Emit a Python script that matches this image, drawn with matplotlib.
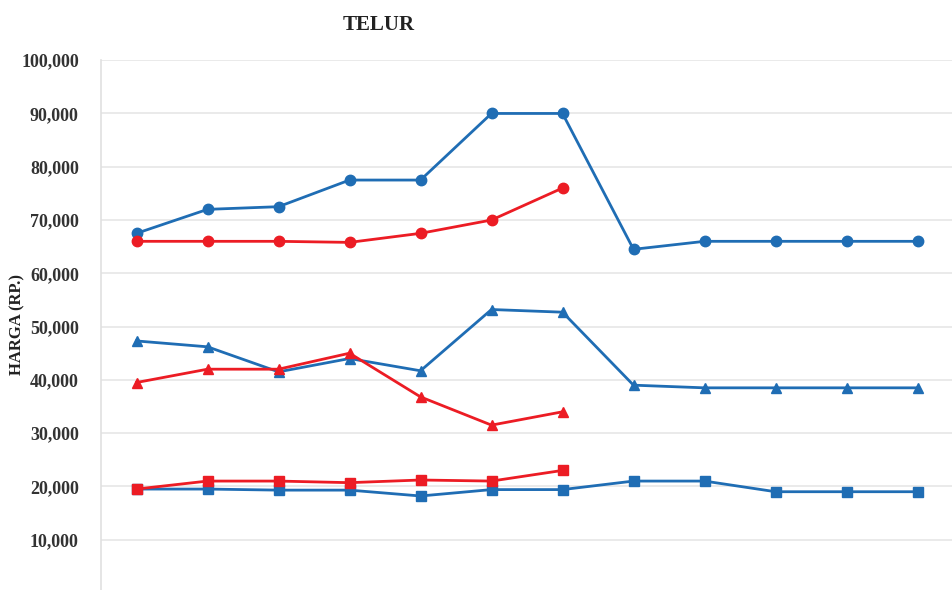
"""
Harga telur: blue series over 12 periods, red series over the first 7
"""
import matplotlib
matplotlib.use('Agg')
import matplotlib.pyplot as plt
from matplotlib.ticker import FuncFormatter

periods = list(range(1, 13))

blue_circle = [67500, 72000, 72500, 77500, 77500, 90000, 90000, 64500, 66000, 66000, 66000, 66000]
red_circle = [66000, 66000, 66000, 65800, 67500, 70000, 76000]
blue_triangle = [47300, 46200, 41500, 44000, 41700, 53200, 52700, 39000, 38500, 38500, 38500, 38500]
red_triangle = [39500, 42000, 42000, 45000, 36800, 31500, 34000]
blue_square = [19500, 19500, 19300, 19300, 18200, 19400, 19400, 21000, 21000, 19000, 19000, 19000]
red_square = [19500, 21000, 21000, 20700, 21200, 21000, 23000]

title = 'TELUR'
ylabel = 'HARGA (RP.)'

BLUE = '#1f6db4'
RED = '#ec1c24'
font = 'Liberation Serif'

fig = plt.figure(figsize=(9.53, 5.90), dpi=100)
ax = fig.add_axes([0.106, -0.005, 0.894, 0.903])

n_blue = len(blue_circle)
n_red = len(red_circle)
ax.plot(periods[:n_blue], blue_circle, color=BLUE, lw=2, marker='o', ms=7.5, zorder=3)
ax.plot(periods[:n_blue], blue_triangle, color=BLUE, lw=2, marker='^', ms=7.5, zorder=3)
ax.plot(periods[:n_blue], blue_square, color=BLUE, lw=2, marker='s', ms=7.5, zorder=3)
ax.plot(periods[:n_red], red_circle, color=RED, lw=2, marker='o', ms=7.5, zorder=4)
ax.plot(periods[:n_red], red_triangle, color=RED, lw=2, marker='^', ms=7.5, zorder=4)
ax.plot(periods[:n_red], red_square, color=RED, lw=2, marker='s', ms=7.5, zorder=4)

ax.set_xlim(0.5, 12.5)
ax.set_ylim(0, 100000)
ax.set_yticks(range(10000, 100001, 10000))
ax.yaxis.set_major_formatter(FuncFormatter(lambda v, p: '{:,.0f}'.format(v)))
ax.set_xticks([])
ax.grid(axis='y', color='#e6e6e6', lw=1.2, zorder=0)
for s in ['top', 'right', 'bottom']:
    ax.spines[s].set_visible(False)
ax.spines['left'].set_color('#e0e0e0')
ax.spines['left'].set_linewidth(1.2)
ax.tick_params(axis='y', length=0, pad=16)
for lab in ax.get_yticklabels():
    lab.set_fontfamily(font)
    lab.set_fontweight('bold')
    lab.set_fontsize(13)
    lab.set_color('#333333')

fig.text(0.397, 0.958, title, ha='center', va='center', fontfamily=font,
         fontweight='bold', fontsize=15, color='#222222')
fig.text(0.018, 0.45, ylabel, ha='center', va='center', rotation=90,
         fontfamily=font, fontweight='bold', fontsize=12, color='#222222')

plt.savefig('out.png', dpi=100)
